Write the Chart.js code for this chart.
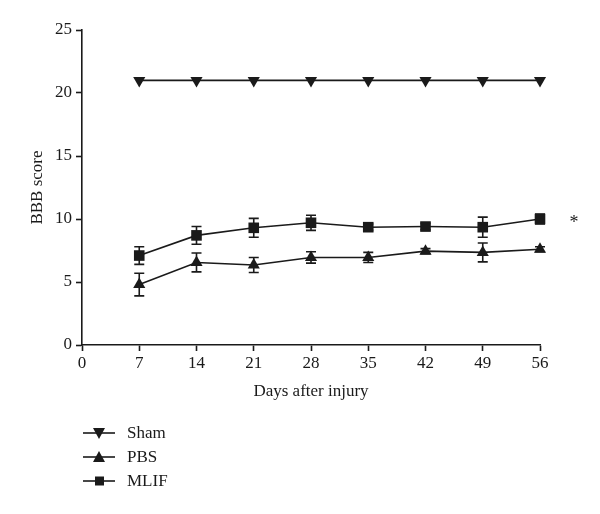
<!DOCTYPE html>
<html>
<head>
<meta charset="utf-8">
<script src="https://cdn.jsdelivr.net/npm/chart.js@4"></script>
<style>
html,body{margin:0;padding:0;background:#fff;}
#wrap{width:600px;height:514px;position:relative;}
</style>
</head>
<body>
<div id="wrap"><canvas id="c" width="600" height="514"></canvas></div>
<script>
const days = [7, 14, 21, 28, 35, 42, 49, 56];
const seriesNames = ['Sham', 'PBS', 'MLIF'];
const shamValues = [21, 21, 21, 21, 21, 21, 21, 21];
const shamErrors = [0, 0, 0, 0, 0, 0, 0, 0];
const pbsValues = [4.8, 6.55, 6.35, 6.95, 6.95, 7.45, 7.35, 7.6];
const pbsErrors = [0.9, 0.75, 0.6, 0.45, 0.4, 0.2, 0.75, 0.2];
const mlifValues = [7.1, 8.7, 9.3, 9.7, 9.35, 9.4, 9.35, 10.0];
const mlifErrors = [0.7, 0.7, 0.75, 0.6, 0.25, 0.25, 0.8, 0.4];
const xTicks = [0, 7, 14, 21, 28, 35, 42, 49, 56];
const yTicks = [0, 5, 10, 15, 20, 25];
const xTitle = 'Days after injury';
const yTitle = 'BBB score';
const sigMark = '*';

const FONT = '"Liberation Serif", "DejaVu Serif", serif';
const INK = '#1a1a1a';

function pts(vals){ return days.map((d,i)=>({x:d, y:vals[i]})); }

const errorSets = [shamErrors, pbsErrors, mlifErrors];

const errorBarPlugin = {
  id: 'errorBars',
  beforeDatasetsDraw(chart){
    const ctx = chart.ctx, ys = chart.scales.y, xs = chart.scales.x;
    ctx.save();
    ctx.strokeStyle = INK; ctx.lineWidth = 1.6;
    chart.data.datasets.forEach((ds, di)=>{
      const errs = errorSets[di];
      ds.data.forEach((p, i)=>{
        const e = errs[i]; if (!e) return;
        const px = xs.getPixelForValue(p.x);
        const top = ys.getPixelForValue(p.y + e), bot = ys.getPixelForValue(p.y - e);
        ctx.beginPath();
        ctx.moveTo(px, top); ctx.lineTo(px, bot);
        ctx.moveTo(px-5, top); ctx.lineTo(px+5, top);
        ctx.moveTo(px-5, bot); ctx.lineTo(px+5, bot);
        ctx.stroke();
      });
    });
    ctx.restore();
  },
  afterDraw(chart){
    const ctx = chart.ctx, ys = chart.scales.y, xs = chart.scales.x;
    ctx.save();
    const last = chart.data.datasets[2].data[days.length-1];
    ctx.fillStyle = INK;
    ctx.font = '18px ' + FONT;
    ctx.textAlign = 'center'; ctx.textBaseline = 'middle';
    ctx.fillText(sigMark, xs.getPixelForValue(last.x) + 34, ys.getPixelForValue(last.y) + 4);
    const rowsY = [433, 457, 481];
    chart.data.datasets.forEach((ds, i)=>{
      const y = rowsY[i];
      ctx.strokeStyle = INK; ctx.lineWidth = 1.6;
      ctx.beginPath(); ctx.moveTo(83, y); ctx.lineTo(115, y); ctx.stroke();
      ctx.fillStyle = INK;
      ctx.beginPath();
      if (i === 0) { ctx.moveTo(93, y-5); ctx.lineTo(105, y-5); ctx.lineTo(99, y+6); }
      else if (i === 1) { ctx.moveTo(93, y+5); ctx.lineTo(105, y+5); ctx.lineTo(99, y-6); }
      else { ctx.rect(95, y-4.5, 9, 9); }
      ctx.closePath(); ctx.fill();
      ctx.font = '17px ' + FONT;
      ctx.textAlign = 'left'; ctx.textBaseline = 'middle';
      ctx.fillText(seriesNames[i], 127, y+1);
    });
    ctx.restore();
  }
};

const common = {borderColor: INK, backgroundColor: INK, borderWidth: 1.6, clip: false,
  pointBackgroundColor: INK, pointBorderColor: INK, pointBorderWidth: 0, tension: 0, fill: false};

new Chart(document.getElementById('c'), {
  type: 'line',
  data: {
    datasets: [
      Object.assign({label: seriesNames[0], data: pts(shamValues), pointStyle: 'triangle', rotation: 180, pointRadius: 7}, common),
      Object.assign({label: seriesNames[1], data: pts(pbsValues), pointStyle: 'triangle', rotation: 0, pointRadius: 7}, common),
      Object.assign({label: seriesNames[2], data: pts(mlifValues), pointStyle: 'rect', rotation: 0, pointRadius: 7.5}, common)
    ]
  },
  options: {
    responsive: false, animation: false,
    layout: {padding: {top: 30, right: 60, bottom: 112, left: 27}},
    plugins: {legend: {display: false}, tooltip: {enabled: false}},
    scales: {
      x: {
        type: 'linear', min: 0, max: 56,
        afterBuildTicks(s){ s.ticks = xTicks.map(v=>({value:v})); },
        afterFit(s){ s.height = 57; },
        grid: {display: true, drawOnChartArea: false, drawTicks: true, tickLength: 6, tickWidth: 1.6, tickColor: INK},
        border: {display: true, color: INK, width: 1.6},
        ticks: {color: INK, font: {family: FONT, size: 17}, padding: 2, maxRotation: 0},
        title: {display: true, text: xTitle, color: INK, font: {family: FONT, size: 17}, padding: {top: 3, bottom: 0}}
      },
      y: {
        min: 0, max: 25,
        afterBuildTicks(s){ s.ticks = yTicks.map(v=>({value:v})); },
        afterFit(s){ s.width = 55; },
        grid: {display: true, drawOnChartArea: false, drawTicks: true, tickLength: 6, tickWidth: 1.6, tickColor: INK},
        border: {display: true, color: INK, width: 1.6},
        ticks: {color: INK, font: {family: FONT, size: 17}, padding: 4},
        title: {display: true, text: yTitle, color: INK, font: {family: FONT, size: 17}, padding: {top: 0, bottom: 4}}
      }
    }
  },
  plugins: [errorBarPlugin]
});
</script>
</body>
</html>
